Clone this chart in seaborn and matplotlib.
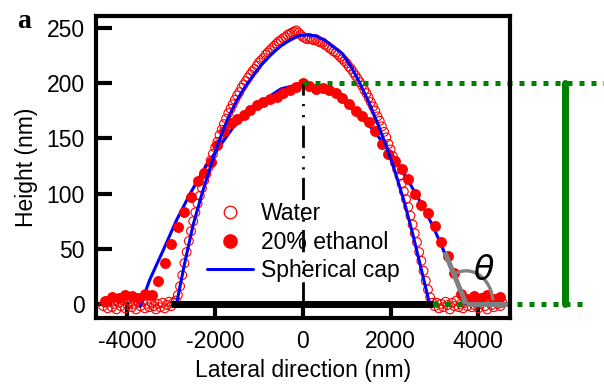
"""
Droplet height profiles (water vs 20% ethanol) with spherical cap fits.
"""

import numpy as np
import matplotlib
matplotlib.use("Agg")
import matplotlib.pyplot as plt
from matplotlib.lines import Line2D
from matplotlib.patches import Arc
import seaborn as sns

# --- data --------------------------------------------------------------
# water profile, sampled every 50 nm starting at -4550 nm
water_start, water_step = -4550, 50
water_base_left = [-2, 1, -4, 2, -3, 0, -5, 1, -2, 3,
                   -4, -1, 2, -3, 0, -5, 1, -2, 2, -4,
                   0, -3, 1, -2, -5, 0, -3, 1, -4, -1,
                   2, -2, 1]
water_drop = [3, 8, 16, 26, 37, 47, 57, 66, 75, 83,
              91, 98, 105, 112, 118, 124, 130, 136, 142, 147,
              153, 158, 163, 168, 173, 177, 181, 185, 189, 192,
              196, 199, 202, 205, 208, 211, 213, 216, 219, 221,
              223, 226, 228, 230, 232, 234, 236, 238, 239, 241,
              242, 244, 245, 246, 247, 248, 246, 244, 242, 241,
              240, 241, 240, 239, 240, 238, 237, 237, 235, 234,
              232, 231, 229, 228, 226, 224, 222, 220, 218, 215,
              213, 210, 207, 204, 201, 198, 194, 191, 187, 183,
              179, 175, 170, 166, 161, 156, 151, 145, 140, 134,
              128, 122, 116, 109, 102, 95, 88, 80, 72, 64,
              56, 47, 39, 30, 21, 13, 6, 1]
water_base_right = [-2, 1, -4, 0, -3, 2, -1, -5, 1, -2,
                    3, -3, 0, -4, 1, -2, 2, -3, -1, 1,
                    -4, 0, 2, -2, -5, 1, -1, -3, 2, 0,
                    -2, 1]

# 20% ethanol profile, sampled every 150 nm starting at -4500 nm
ethanol_start, ethanol_step = -4500, 150
ethanol_height = [3, 6, 5, 8, 7, 5, 9, 8, 21, 37,
                  54, 70, 83, 97, 111, 119, 129, 144, 157, 164,
                  168, 171, 176, 180, 183, 186, 188, 191, 194, 197,
                  200, 198, 195, 196, 194, 191, 187, 181, 175, 170,
                  165, 157, 145, 136, 130, 122, 113, 100, 90, 82,
                  71, 56, 43, 28, 9, 4, 7, 5, 8, 4,
                  6]

# spherical cap fits
water_fit_x = [-2880, -2700, -2500, -2300, -2100, -1900, -1700, -1500, -1300, -1100,
               -900, -700, -500, -300, -100, 100, 300, 500, 700, 900,
               1100, 1300, 1500, 1700, 1900, 2100, 2300, 2500, 2700, 2900]
water_fit_y = [0, 36, 72, 100, 125, 149, 169, 185, 198, 209,
               219, 227, 234, 239, 243, 244, 243, 239, 233, 227,
               215, 200, 183, 164, 143, 120, 94, 64, 31, -2]
ethanol_fit_x = [-3710, -3490, -3180, -2880, -2570, -2270, -1970, -1590, -1000, -500,
                 0, 500, 1000, 1600, 2130, 2440, 2740, 2970, 3200, 3450, 3700]
ethanol_fit_y = [-2, 22, 49, 76, 100, 121, 139, 160, 182, 195,
                 200, 195, 182, 158, 130, 109, 88, 70, 49, 25, 0]

# annotation geometry (nm)
water_base = ([-3000, 2960], [0, 0])
center_line = ([0, 0], [0, 200])
top_guide = ([0, 7000], [200, 200])
bottom_guide = ([2960, 6470], [0, 0])
height_bar = ([5970, 5970], [0, 200])
tangent = ([3235, 3720], [47, 0])
substrate = ([3720, 4670], [0, 0])

xticks = [-4000, -2000, 0, 2000, 4000]
yticks = [0, 50, 100, 150, 200, 250]

water = np.array(water_base_left + water_drop + water_base_right)
water_x = water_start + water_step * np.arange(len(water))
ethanol = np.array(ethanol_height)
ethanol_x = ethanol_start + ethanol_step * np.arange(len(ethanol))

# --- plot --------------------------------------------------------------
sns.set_theme(style="ticks")
plt.rcParams['font.family'] = ['Liberation Sans', 'DejaVu Sans']
plt.rcParams['axes.unicode_minus'] = False
plt.rcParams['text.color'] = 'black'
plt.rcParams['axes.labelcolor'] = 'black'
plt.rcParams['xtick.color'] = 'black'
plt.rcParams['ytick.color'] = 'black'

fig = plt.figure(figsize=(6.04, 3.92), dpi=100)
ax = fig.add_axes([0.159, 0.189, 0.685, 0.770])

RED, BLUE, GREEN, GRAY = '#ff0000', '#0000ff', '#008000', '#808080'

sns.scatterplot(x=water_x, y=water, ax=ax, marker='o', s=40,
                facecolors='none', edgecolor=RED, linewidth=0.8,
                legend=False, zorder=2)
sns.lineplot(x=ethanol_fit_x, y=ethanol_fit_y, ax=ax, color=BLUE,
             linewidth=2.2, sort=False, zorder=3)
sns.scatterplot(x=ethanol_x, y=ethanol, ax=ax, marker='o', s=62,
                color=RED, linewidth=0, legend=False, zorder=4)
sns.lineplot(x=water_fit_x, y=water_fit_y, ax=ax, color=BLUE,
             linewidth=2.2, sort=False, zorder=5)

# annotations
ax.plot(*water_base, color='black', linewidth=5, solid_capstyle='butt', zorder=6)
ax.plot(*center_line, color='black', linewidth=2,
        linestyle=(0, (8, 3, 0.8, 3.2, 0.8, 3)), zorder=6)
ax.plot(*top_guide, color=GREEN, linewidth=3.6, linestyle=(0, (1, 1.4)),
        clip_on=False, zorder=7)
ax.plot(*bottom_guide, color=GREEN, linewidth=3.6, linestyle=(0, (1, 1.4)),
        clip_on=False, zorder=7)
ax.plot(*height_bar, color=GREEN, linewidth=5, clip_on=False, zorder=7)
ax.plot(*tangent, color=GRAY, linewidth=3.6, solid_capstyle='butt', zorder=8)
ax.plot(*substrate, color=GRAY, linewidth=3.6, solid_capstyle='butt', zorder=8)
# angles of Arc are true angles in data units (nm x, nm y)
ax.add_patch(Arc((3720, 0), 1230, 60, theta1=0.3, theta2=174.4,
                 color=GRAY, linewidth=2.4, zorder=8))
ax.text(4130, 29, r'$\theta$', fontsize=24, ha='center', va='center',
        family='Liberation Serif', style='italic', zorder=9)

ax.set_xlim(-4715, 4715)
ax.set_ylim(-12.7, 261)
ax.set_xticks(xticks)
ax.set_yticks(yticks)
ax.set_xticklabels([str(t) for t in xticks])
ax.set_xlabel('Lateral direction (nm)', fontsize=16.5, labelpad=4)
ax.set_ylabel('Height (nm)', fontsize=16.5, labelpad=6)
ax.tick_params(axis='both', direction='in', length=11.5, width=3,
               labelsize=16.5, color='black', labelcolor='black')
ax.tick_params(axis='x', pad=9)
ax.tick_params(axis='y', pad=8)
for side in ['left', 'right', 'top', 'bottom']:
    ax.spines[side].set_visible(True)
    ax.spines[side].set_linewidth(3)
    ax.spines[side].set_color('black')
    ax.spines[side].set_zorder(10)

handles = [
    Line2D([], [], linestyle='', marker='o', markersize=9, markerfacecolor='none',
           markeredgecolor=RED, markeredgewidth=0.9),
    Line2D([], [], linestyle='', marker='o', markersize=9.5, color=RED),
    Line2D([], [], color=BLUE, linewidth=2.2),
]
ax.legend(handles, ['Water', '20% ethanol', 'Spherical cap'],
          loc='upper left', bbox_to_anchor=(0.268, 0.384), frameon=False,
          fontsize=16.5, borderpad=0, borderaxespad=0, handlelength=2.0,
          handletextpad=0.35, labelspacing=0.25, numpoints=1)

fig.text(0.04, 0.945, 'a', fontsize=20, fontweight='bold',
         family='Liberation Serif', ha='center', va='center')

fig.savefig('out.png', dpi=100)
